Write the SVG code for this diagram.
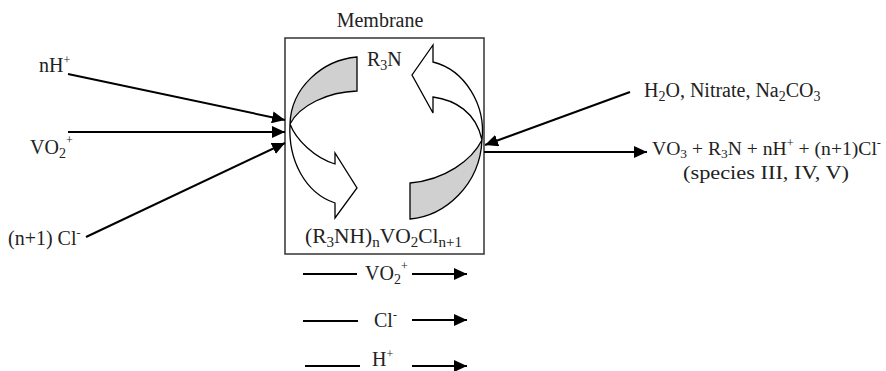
<svg xmlns="http://www.w3.org/2000/svg" width="886" height="371" viewBox="0 0 886 371">
<defs>
<style>
text{font-family:"Liberation Serif","Times New Roman",serif;font-size:20px;fill:#222}
.sub{font-size:14px}
.sup{font-size:12px}
.prod{font-size:19px}
.prod .sub{font-size:13px}
.ln{stroke:#000;stroke-width:2;fill:none}
.arr{stroke:#000;stroke-width:2;fill:none;marker-end:url(#ah)}
.box{fill:none;stroke:#333;stroke-width:1.5}
.band{stroke:#000;stroke-width:1.3;stroke-linejoin:miter}
.gray{fill:#d0d0d0}
.white{fill:#fff}
</style>
<marker id="ah" markerUnits="userSpaceOnUse" markerWidth="14" markerHeight="12" refX="13" refY="6" orient="auto">
<path d="M0,0 L13,6 L0,12 Z" fill="#000"/>
</marker>
</defs>
<rect width="886" height="371" fill="#fff"/>

<g id="membrane">
<rect class="box" x="285" y="38" width="199" height="216"/>
<text x="380" y="27" text-anchor="middle">Membrane</text>
</g>

<g id="cycle-left">
<path class="band gray" d="M357,57 C322,60 291,88 290,124 C300,105 328,92 357,91 Z"/>
<path class="band white" d="M290,124 C296,140 315,158 335,164 L335,153 L357,188 L335,218 L335,203 C305,193 288,160 290,124 Z"/>
</g>
<g id="cycle-right">
<path class="band gray" d="M410,219 C445,216 480,185 482,140 C472,160 445,180 410,183 Z"/>
<path class="band white" d="M482,140 C486,105 465,70 433,62 L433,45 L412,75 L433,113 L433,97 C455,100 476,112 482,140 Z"/>
</g>

<g id="label-r3n"><text x="367" y="66">R<tspan class="sub" dy="4">3</tspan><tspan dy="-4">N</tspan></text></g>
<g id="label-complex"><text x="305" y="243" textLength="157" lengthAdjust="spacingAndGlyphs">(R<tspan class="sub" dy="4">3</tspan><tspan dy="-4">NH)</tspan><tspan class="sub" dy="4">n</tspan><tspan dy="-4">VO</tspan><tspan class="sub" dy="4">2</tspan><tspan dy="-4">Cl</tspan><tspan class="sub" dy="4">n+1</tspan></text></g>

<g id="label-nh"><text x="39" y="72">nH<tspan class="sup" dy="-8">+</tspan></text></g>
<g id="label-vo2"><text x="30" y="154">VO<tspan class="sub" dy="4">2</tspan><tspan class="sup" dy="-14">+</tspan></text></g>
<g id="label-cl"><text x="8" y="245">(n+1) Cl<tspan class="sup" dy="-8">-</tspan></text></g>

<g id="label-strip"><text x="644" y="97">H<tspan class="sub" dy="4">2</tspan><tspan dy="-4">O, Nitrate, Na</tspan><tspan class="sub" dy="4">2</tspan><tspan dy="-4">CO</tspan><tspan class="sub" dy="4">3</tspan></text></g>
<g id="label-products">
<text class="prod" x="652" y="155" textLength="229" lengthAdjust="spacingAndGlyphs">VO<tspan class="sub" dy="3">3</tspan><tspan dy="-3"> + R</tspan><tspan class="sub" dy="3">3</tspan><tspan dy="-3">N + nH</tspan><tspan class="sup" dy="-8">+</tspan><tspan dy="8"> + (n+1)Cl</tspan><tspan class="sup" dy="-8">-</tspan></text>
<text class="prod" x="766" y="179" text-anchor="middle" textLength="166" lengthAdjust="spacingAndGlyphs">(species III, IV, V)</text>
</g>

<g id="flux-vo2"><text x="365" y="280">VO<tspan class="sub" dy="4">2</tspan><tspan class="sup" dy="-14">+</tspan></text></g>
<g id="flux-cl"><text x="374" y="327">Cl<tspan class="sup" dy="-8">-</tspan></text></g>
<g id="flux-h"><text x="372" y="366">H<tspan class="sup" dy="-8">+</tspan></text></g>

<g id="connectors">
<line class="arr" x1="68" y1="74" x2="285" y2="120"/>
<line class="arr" x1="68" y1="132" x2="285" y2="132"/>
<line class="arr" x1="86" y1="237" x2="285" y2="143"/>
<line class="arr" x1="630" y1="92" x2="485" y2="145"/>
<line class="arr" x1="484" y1="152" x2="647" y2="152"/>
<line class="ln" x1="303" y1="274" x2="357" y2="274"/>
<line class="arr" x1="412" y1="274" x2="467" y2="274"/>
<line class="ln" x1="303" y1="321" x2="358" y2="321"/>
<line class="arr" x1="412" y1="320" x2="467" y2="320"/>
<line class="ln" x1="305" y1="366" x2="360" y2="366"/>
<line class="arr" x1="412" y1="366" x2="467" y2="366"/>
</g>
</svg>
